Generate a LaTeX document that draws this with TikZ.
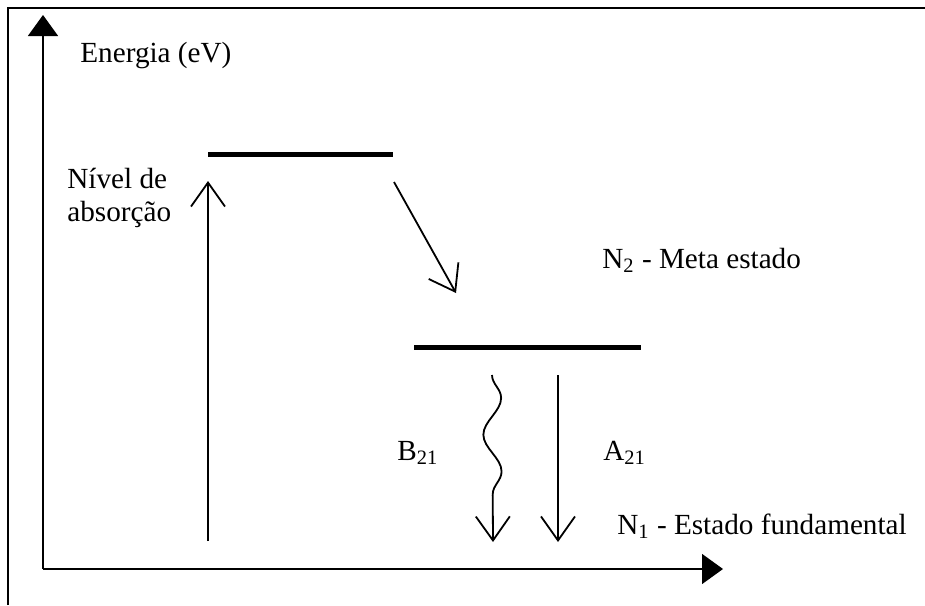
\documentclass[tikz,border=0pt]{standalone}
\usepackage{fontspec}
\setmainfont{Liberation Serif}
\usetikzlibrary{arrows.meta,decorations.pathmorphing}

\begin{document}
\begin{tikzpicture}[x=.5pt,y=-.5pt,
  nivel/.style={line width=2.5pt},
  seta/.style={line width=.9pt,-{Straight Barb[length=12pt,width=17pt]}},
  eixo/.style={line width=.7pt,-{Triangle[length=10.5pt,width=15pt]}},
  rotulo/.style={inner sep=0pt,font=\fontsize{14.6}{16.5}\selectfont}]
\useasboundingbox (0,0) rectangle (925,605);
\draw[line width=.8pt] (8,605) -- (8,8) -- (925,8);
% eixos
\coordinate (O) at (43,569);
\coordinate (ey) at (43,15);
\coordinate (ex) at (723,569);
\draw[eixo] (O) -- (ey);
\draw[eixo] (O) -- (ex);
\node[rotulo,anchor=base west] (energia) at (80,62) {Energia (eV)};
% niveis
\coordinate (n3a) at (208,154);
\coordinate (n3b) at (393,154);
\coordinate (n2a) at (414,347);
\coordinate (n2b) at (641,347);
\draw[nivel] (n3a) -- (n3b);
\draw[nivel] (n2a) -- (n2b);
% transicoes
\coordinate (abs0) at (208,541);
\coordinate (abs1) at (208,181);
\coordinate (dec0) at (394,182);
\coordinate (dec1) at (456,293);
\coordinate (esp0) at (558,375);
\coordinate (esp1) at (558,542);
\coordinate (est0) at (492,375);
\coordinate (est1) at (493,542);
\draw[seta] (abs0) -- (abs1);
\draw[seta] (dec0) -- (dec1);
\draw[seta] (esp0) -- (esp1);
\draw[seta,decorate,decoration={snake,amplitude=4.5pt,segment length=36.75pt,post length=8pt}] (est0) -- (est1);
% rotulos
\node[rotulo,anchor=west,align=left] (absorcao) at (67,198) {Nível de\\absorção};
\node[rotulo,anchor=base west] (meta) at (602,268) {N\textsubscript{2} - Meta estado};
\node[rotulo,anchor=base west] (b21) at (397,460) {B\textsubscript{21}};
\node[rotulo,anchor=base west] (a21) at (603,460) {A\textsubscript{21}};
\node[rotulo,anchor=base west] (fund) at (617,534) {N\textsubscript{1} - Estado fundamental};
\end{tikzpicture}
\end{document}
